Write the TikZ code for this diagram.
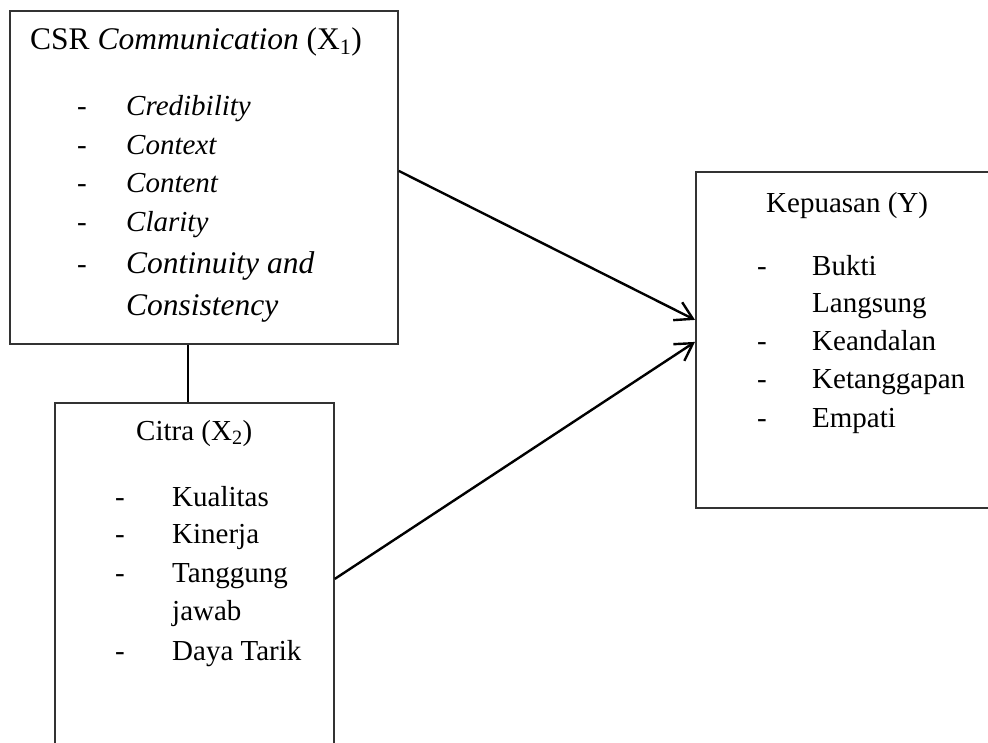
\documentclass[tikz,border=0pt]{standalone}
\usepackage{fontspec}
\setmainfont{Liberation Serif}
\usetikzlibrary{arrows.meta}
\begin{document}
\begin{tikzpicture}[x=1pt,y=-1pt,
  box/.style={draw=black!80, line width=1.8pt, rectangle, inner sep=0pt, anchor=north west},
  arr/.style={draw=black, line width=2.4pt, -{Straight Barb[length=17pt,width=20pt,line width=2.4pt]}},
  link/.style={draw=black, line width=1.8pt},
  txt/.style={anchor=base west, inner sep=0pt, font=\fontsize{29}{35}\selectfont},
  itx/.style={txt, font=\fontsize{29}{35}\selectfont\itshape},
  head/.style={anchor=base west, inner sep=0pt, font=\fontsize{31.5}{38}\selectfont},
  big/.style={anchor=base west, inner sep=0pt, font=\fontsize{31.5}{38}\selectfont\itshape}]
\useasboundingbox (0,0) rectangle (988,742);
\begin{scope}
\clip (0,0) rectangle (988,742);
% the three variable boxes (the lower and right ones run past the page edge)
\node[box, minimum width=388pt, minimum height=333pt] (b1) at (9,10) {};
\node[box, minimum width=279pt, minimum height=388pt] (b2) at (54,402) {};
\node[box, minimum width=310pt, minimum height=336pt] (b3) at (695,171) {};

% CSR Communication box
\node[head] (t1) at (30,49) {CSR \textit{Communication} (X\textsubscript{1})};
\node[txt] (d11) at (77,115) {-};
\node[txt] (d12) at (77,154) {-};
\node[txt] (d13) at (77,192) {-};
\node[txt] (d14) at (77,231) {-};
\node[txt] (d15) at (77,273) {-};
\node[itx] (i11) at (126,115) {Credibility};
\node[itx] (i12) at (126,154) {Context};
\node[itx] (i13) at (126,192) {Content};
\node[itx] (i14) at (126,231) {Clarity};
\node[big] (i15) at (126,273) {Continuity and};
\node[big] (i16) at (126,315) {Consistency};

% Citra box
\node[txt] (t2) at (136,440) {Citra (X\textsubscript{2})};
\node[txt] (d21) at (115,506) {-};
\node[txt] (d22) at (115,543) {-};
\node[txt] (d23) at (115,582) {-};
\node[txt] (d24) at (115,660) {-};
\node[txt] (i21) at (172,506) {Kualitas};
\node[txt] (i22) at (172,543) {Kinerja};
\node[txt] (i23) at (172,582) {Tanggung};
\node[txt] (i24) at (172,620) {jawab};
\node[txt] (i25) at (172,660) {Daya Tarik};

% Kepuasan box
\node[txt] (t3) at (766,212) {Kepuasan (Y)};
\node[txt] (d31) at (757,275) {-};
\node[txt] (d32) at (757,350) {-};
\node[txt] (d33) at (757,388) {-};
\node[txt] (d34) at (757,427) {-};
\node[txt] (i31) at (812,275) {Bukti};
\node[txt] (i32) at (812,312) {Langsung};
\node[txt] (i33) at (812,350) {Keandalan};
\node[txt] (i34) at (812,388) {Ketanggapan};
\node[txt] (i35) at (812,427) {Empati};

% connectors
\draw[link] ([xshift=-16pt]b1.south) -- ([xshift=-16pt]b1.south |- b2.north);
\draw[arr] ([yshift=6.5pt]b1.east) -- ([yshift=20pt]b3.west);
\draw[arr] ([yshift=18pt]b2.east) -- ([yshift=-2pt]b3.west);
\end{scope}
\end{tikzpicture}
\end{document}
